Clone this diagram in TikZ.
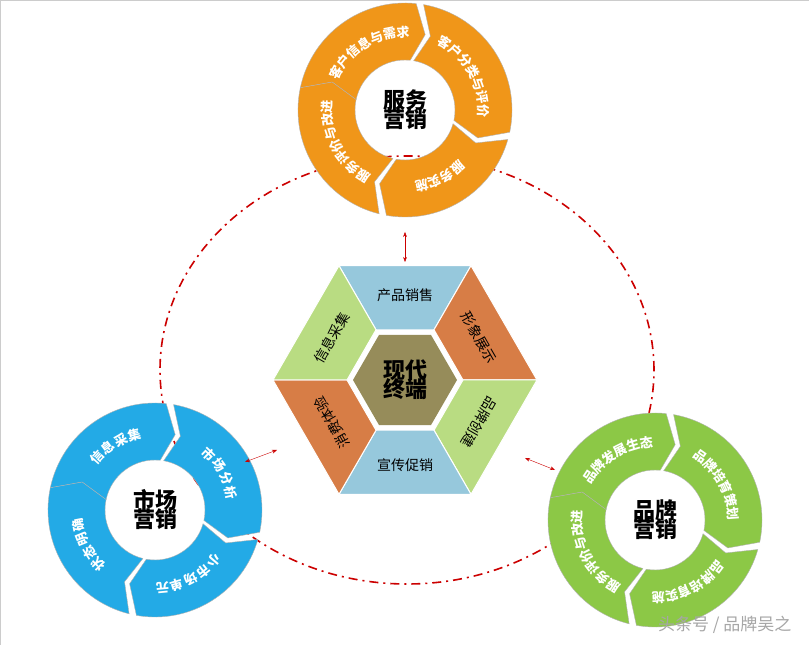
\documentclass[tikz,border=0pt]{standalone}
\usepackage{fontspec}
\setmainfont{Noto Sans CJK SC}
\usetikzlibrary{calc,arrows.meta}

\definecolor{orng}{RGB}{240,150,25}
\definecolor{skyb}{RGB}{35,170,230}
\definecolor{leaf}{RGB}{140,200,70}
\definecolor{hexb}{RGB}{150,200,220}
\definecolor{hexo}{RGB}{215,125,70}
\definecolor{hexg}{RGB}{185,220,130}
\definecolor{olive}{RGB}{150,140,90}

\tikzset{
  segtext/.style={text=white,font=\bfseries\fontsize{13}{13}\selectfont,inner sep=0pt},
  ringlabel/.style={font=\bfseries\fontsize{22}{23}\selectfont,align=center},
  hextext/.style={font=\fontsize{14}{14}\selectfont,inner sep=0pt},
  linkarrow/.style={red!80!black,{Stealth[length=5pt]}-{Stealth[length=5pt]}},
}

% ring segment: centre, start angle, end angle, colour, char spacing, chars
\newcommand\ringseg[6]{%
  \fill[#4,draw=gray!60] ($(#1)+(#2:107)$) arc[start angle=#2,end angle=#3,radius=107pt]
     -- ($(#1)+(#3-9:78)$) -- ($(#1)+(#3:50)$)
     arc[start angle=#3,end angle=#2,radius=50pt] -- ($(#1)+(#2-9:78)$) -- cycle;
  \foreach \ch [count=\i] in {#6} {\xdef\nch{\i}}
  \foreach \ch [count=\i] in {#6} {
    \pgfmathsetmacro\ang{(#2+#3)/2-9/2-#5*(\i-(\nch+1)/2)}
    \node[segtext,rotate=\ang-90] at ($(#1)+(\ang:78)$) {\ch};
  }
}

\begin{document}
\begin{tikzpicture}[x=1pt,y=1pt]
\useasboundingbox (0,0) rectangle (809,645);
\fill[white] (0,0) rectangle (809,645);
\draw[gray!40] (0,0) rectangle (809,645);

% centres
\coordinate (top) at (405,535);
\coordinate (lft) at (155,135);
\coordinate (rgt) at (655,125);
\coordinate (hex) at (405,265);

% dash-dot ring
\draw[red!80!black,line width=1.6pt,dash pattern=on 9pt off 5pt on 2pt off 5pt] (407,275) ellipse[x radius=247,y radius=214];

% service ring
\ringseg{top}{168}{84}{orng}{10}{客,户,信,息,与,需,求}
\ringseg{top}{80}{-12}{orng}{10}{客,户,分,类,与,评,价}
\ringseg{top}{-16}{-100}{orng}{10}{服,务,实,施}
\ringseg{top}{-104}{-192}{orng}{10}{服,务,评,价,与,改,进}
\node[ringlabel] (svc) at (top) {服务\\[-4pt]营销};

% market ring
\ringseg{lft}{168}{84}{skyb}{11}{信,息,采,集}
\ringseg{lft}{80}{-12}{skyb}{11}{市,场,分,析}
\ringseg{lft}{-16}{-100}{skyb}{11}{小,市,场,单,元}
\ringseg{lft}{-104}{-192}{skyb}{11}{状,态,明,确}
\node[ringlabel] (mkt) at (lft) {市场\\[-4pt]营销};

% brand ring
\ringseg{rgt}{168}{84}{leaf}{10}{品,牌,发,展,生,态}
\ringseg{rgt}{80}{-12}{leaf}{10}{品,牌,培,育,策,划}
\ringseg{rgt}{-16}{-100}{leaf}{10}{品,牌,培,育,实,施}
\ringseg{rgt}{-104}{-192}{leaf}{10}{服,务,评,价,与,改,进}
\node[ringlabel] (brd) at (rgt) {品牌\\[-4pt]营销};

% hexagon
\fill[olive] ($(hex)+(0:52)$) \foreach \a in {60,120,...,300} {-- ($(hex)+(\a:52)$)} -- cycle;
\node[ringlabel] (term) at (hex) {现代\\[-4pt]终端};
\foreach \a/\col/\txt in {90/hexb/产品销售,30/hexo/形象展示,-30/hexg/品牌创建,
                          -90/hexb/宣传促销,-150/hexo/消费体验,150/hexg/信息采集} {
  \fill[\col,draw=white,line width=1pt]
    ($(hex)+(\a-30:58)$) -- ($(hex)+(\a-30:132)$) -- ($(hex)+(\a+30:132)$) -- ($(hex)+(\a+30:58)$) -- cycle;
  \pgfmathsetmacro\rot{\a==-90 ? 0 : \a-90}
  \node[hextext,rotate=\rot] at ($(hex)+(\a:85)$) {\txt};
}

% links
\coordinate (t1) at (405,413); \coordinate (t2) at (405,383);
\draw[linkarrow] (t1) -- (t2);
\coordinate (l1) at (245,183); \coordinate (l2) at (277,195);
\draw[linkarrow] (l1) -- (l2);
\coordinate (r1) at (525,187); \coordinate (r2) at (555,175);
\draw[linkarrow] (r1) -- (r2);

\node[text=gray!70,font=\fontsize{17}{17}\selectfont,anchor=east] (mark) at (795,20) {头条号 / 品牌吴之};
\end{tikzpicture}
\end{document}
